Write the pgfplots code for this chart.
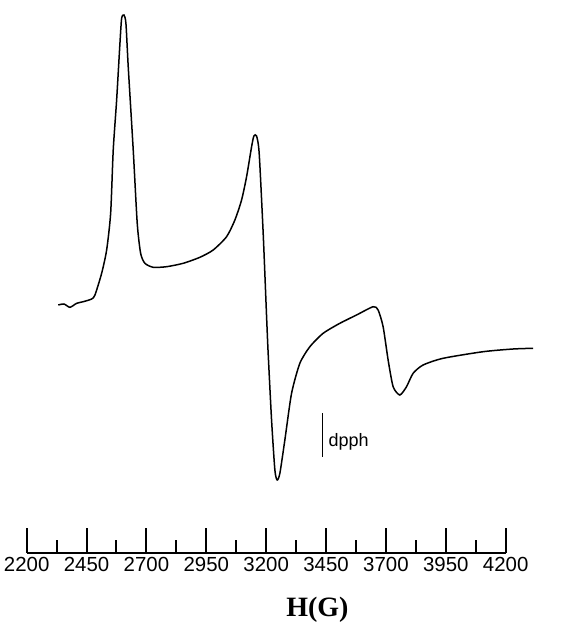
\documentclass[border=0pt]{standalone}
\usepackage{pgfplots}
\pgfplotsset{compat=1.18}
\usepackage{fontspec}
\setmainfont{Liberation Sans}
\newfontfamily\titlefont{Liberation Serif}
\begin{document}
\begin{tikzpicture}
\begin{axis}[
  scale only axis,
  width=239.5pt, height=276.35pt,
  xmin=2200, xmax=4200, ymin=75.3, ymax=628,
  clip=false,
  axis x line=bottom,
  axis y line=none,
  axis line style={-, line width=1pt},
  xtick={2200,2450,2700,2950,3200,3450,3700,3950,4200},
  xticklabels={2200,2450,2700,2950,3200,3450,3700,3950,4200},
  minor x tick num=1,
  xtick align=inside,
  major tick length=12.5pt,
  minor tick length=6.5pt,
  every tick/.style={black, line width=1pt},
  xticklabel style={font=\fontsize{10.2}{12}\selectfont, inner sep=2.3pt},
  xlabel={\titlefont\bfseries H(G)},
  xlabel style={font=\fontsize{14}{16}\selectfont, at={(rel axis cs:0.6069,-0.1163)}, anchor=base},
]
\addplot[black, line width=0.75pt, smooth, tension=0.4] coordinates {
(2331.9,323) (2355.7,324) (2380.7,320.7) (2408.7,324.7) (2436.2,326.3)
(2471.3,329) (2485.1,333) (2513,354.7) (2533.9,378) (2550.6,414.7)
(2561.4,478) (2575.6,528) (2589.4,584.7) (2596.5,609.7) (2606.1,613)
(2614.4,604.7) (2624,561.3) (2644.9,478) (2661.6,404.7) (2675.8,374.7)
(2693.7,364.7) (2728.4,360.7) (2784.3,361.3) (2853.6,364.7) (2923.3,370.7)
(2978.8,378) (3034.7,391.3) (3069.4,408) (3097.3,428) (3118.2,451.3)
(3139.1,481.3) (3148.7,492) (3159.9,492) (3170.8,474.7) (3187.5,394.7)
(3201.7,311.3) (3208.3,274.7) (3222.5,208) (3236.3,158) (3245.9,148)
(3257.2,154.7) (3278,188) (3306,234.7) (3340.6,264.7) (3382.4,281.3)
(3437.9,294.7) (3507.6,304.7) (3577.3,313) (3646.6,321.3) (3667.4,318)
(3688.3,301.3) (3709.2,268) (3730.1,241.3) (3758,233) (3786,241.3)
(3813.5,254.7) (3855.2,263) (3938.7,269.7) (4105.7,276.3) (4230.9,279)
(4314.4,279.7)
};
\addplot[black, line width=0.6pt] coordinates {(3433.7,171.3) (3433.7,214.7)};
\node[anchor=west, inner sep=3pt, font=\fontsize{9}{10}\selectfont] at (axis cs:3433.7,186.3) {dpph};
\coordinate (bl) at (axis cs:2088.6,0);
\coordinate (tr) at (axis cs:4500.9,628);
\end{axis}
\pgfresetboundingbox
\path[use as bounding box] (bl) rectangle (tr);
\end{tikzpicture}
\end{document}
